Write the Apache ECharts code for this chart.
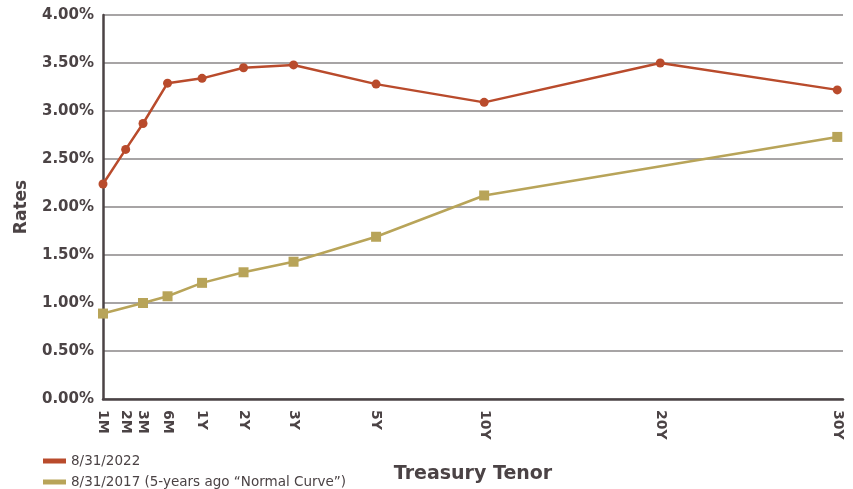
<!DOCTYPE html>
<html>
<head>
<meta charset="utf-8">
<title>Treasury Yield Curve</title>
<script src="https://cdn.jsdelivr.net/npm/echarts@6/dist/echarts.min.js"></script>
<style>
  html, body { margin: 0; padding: 0; background: #ffffff; }
  #chart { width: 853px; height: 489px; }
</style>
</head>
<body>
<div id="chart"></div>
<script>
// Tenors and their place along the (non-uniform) tenor axis, 1M = 0, 30Y = 100
const tenors = ['1M', '2M', '3M', '6M', '1Y', '2Y', '3Y', '5Y', '10Y', '20Y', '30Y'];
const tenorScale = [0, 3.09, 5.45, 8.79, 13.49, 19.14, 25.95, 37.19, 51.91, 75.89, 100];

// Yields in percent
const rates2022 = [2.24, 2.60, 2.87, 3.29, 3.34, 3.45, 3.48, 3.28, 3.09, 3.50, 3.22];
const rates2017 = [0.89, null, 1.00, 1.07, 1.21, 1.32, 1.43, 1.69, 2.12, null, 2.73];

const seriesNames = ['8/31/2022', '8/31/2017 (5-years ago \u201cNormal Curve\u201d)'];
const yTicks = [0, 0.5, 1, 1.5, 2, 2.5, 3, 3.5, 4];

const RED = '#b94b2c';
const GOLD = '#b8a459';
const INK = '#4b4345';

function pairs(values) {
  const out = [];
  values.forEach((v, i) => { if (v !== null) out.push([tenorScale[i], v]); });
  return out;
}

const labelFor = {};
tenorScale.forEach((p, i) => { labelFor[p] = tenors[i]; });

// one legend row per series, stacked under the axis labels
function legendRow(name, top) {
  return {
    orient: 'vertical',
    left: 38,
    top: top,
    itemWidth: 23,
    itemHeight: 5,
    data: [{ name: name, icon: 'rect' }],
    textStyle: { fontFamily: 'DejaVu Sans', fontSize: 13.5, color: INK }
  };
}

const chart = echarts.init(document.getElementById('chart'), null, { renderer: 'canvas' });

chart.setOption({
  animation: false,
  backgroundColor: '#ffffff',
  grid: { left: 103, right: 10, top: 15, bottom: 88 },
  legend: [legendRow(seriesNames[0], 449), legendRow(seriesNames[1], 470)],
  xAxis: {
    type: 'value',
    min: 0,
    max: 100.78,
    name: 'Treasury Tenor',
    nameLocation: 'middle',
    nameGap: 66,
    nameTextStyle: { fontFamily: 'DejaVu Sans', fontWeight: 'bold', fontSize: 19, color: INK },
    axisLine: { show: true, lineStyle: { color: INK, width: 2.5 } },
    axisTick: { show: false },
    splitLine: { show: false },
    axisLabel: {
      customValues: tenorScale,
      rotate: -90,
      margin: 11,
      fontFamily: 'DejaVu Sans',
      fontWeight: 'bold',
      fontSize: 14,
      color: INK,
      formatter: v => labelFor[v] || ''
    }
  },
  yAxis: {
    type: 'value',
    min: 0,
    max: 4,
    interval: 0.5,
    name: 'Rates',
    nameLocation: 'middle',
    nameGap: 73,
    nameTextStyle: { fontFamily: 'DejaVu Sans', fontWeight: 'bold', fontSize: 17, color: INK },
    axisLine: { show: true, lineStyle: { color: INK, width: 2.5 } },
    axisTick: { show: false },
    splitLine: { show: true, lineStyle: { color: '#a7a4a5', width: 2 } },
    axisLabel: {
      margin: 9,
      fontFamily: 'DejaVu Sans',
      fontWeight: 'bold',
      fontSize: 15,
      color: INK,
      formatter: v => (yTicks.includes(v) ? v.toFixed(2) + '%' : '')
    }
  },
  series: [
    {
      name: seriesNames[0],
      type: 'line',
      data: pairs(rates2022),
      symbol: 'circle',
      symbolSize: 9,
      itemStyle: { color: RED },
      lineStyle: { color: RED, width: 2.5 },
      z: 3
    },
    {
      name: seriesNames[1],
      type: 'line',
      data: pairs(rates2017),
      symbol: 'rect',
      symbolSize: 10,
      itemStyle: { color: GOLD },
      lineStyle: { color: GOLD, width: 2.5 },
      z: 2
    }
  ]
});
</script>
</body>
</html>
